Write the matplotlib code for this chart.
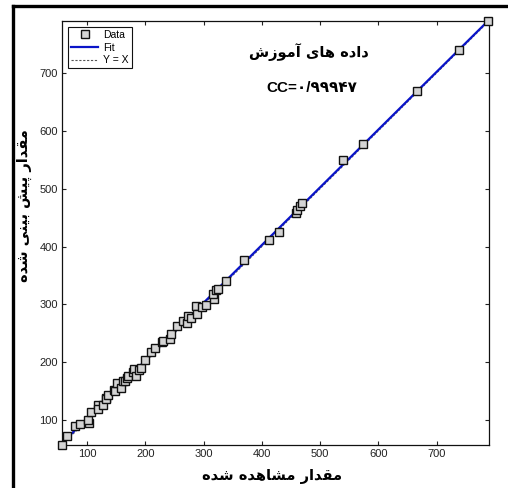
import numpy as np
import matplotlib
matplotlib.use("Agg")
import matplotlib.pyplot as plt
from matplotlib.lines import Line2D

# ---------------- data ----------------
observed = [57, 66, 79, 88, 103, 102, 106, 118, 118, 128, 133, 133, 136, 146, 148,
            152, 159, 162, 166, 168, 171, 179, 180, 184, 189, 193, 199, 209, 217,
            228, 231, 242, 244, 254, 264, 271, 274, 278, 287, 288, 297, 305, 318,
            317, 321, 325, 338, 370, 412, 430, 458, 461, 465, 469, 539, 573, 666,
            738, 789]
predicted = [57, 72, 89, 94, 95, 100, 114, 126, 120, 126, 139, 136, 143, 152, 150,
             165, 156, 167, 168, 172, 177, 184, 188, 177, 186, 190, 204, 217, 224,
             235, 237, 241, 249, 262, 272, 268, 280, 276, 297, 283, 295, 299, 309,
             318, 325, 327, 340, 377, 412, 426, 458, 464, 470, 475, 550, 577, 669,
             740, 790]
tick_values = [100, 200, 300, 400, 500, 600, 700]
title_text = "داده های آموزش"
cc_text = "CC=۰/۹۹۹۴۷"
xlabel_text = "مقدار مشاهده شده"
ylabel_text = "مقدار پیش بینی شده"
legend_labels = ["Data", "Fit", "Y = X"]

# ------------- minimal Persian shaping (matplotlib has no text shaping) -------------
FORMS = {
    '\u0627': ('\uFE8D', '\uFE8E', None, None),
    '\u0622': ('\uFE81', '\uFE82', None, None),
    '\u0628': ('\uFE8F', '\uFE90', '\uFE91', '\uFE92'),
    '\u067E': ('\uFB56', '\uFB57', '\uFB58', '\uFB59'),
    '\u062F': ('\uFEA9', '\uFEAA', None, None),
    '\u0631': ('\uFEAD', '\uFEAE', None, None),
    '\u0632': ('\uFEAF', '\uFEB0', None, None),
    '\u0634': ('\uFEB5', '\uFEB6', '\uFEB7', '\uFEB8'),
    '\u0642': ('\uFED5', '\uFED6', '\uFED7', '\uFED8'),
    '\u0645': ('\uFEE1', '\uFEE2', '\uFEE3', '\uFEE4'),
    '\u0646': ('\uFEE5', '\uFEE6', '\uFEE7', '\uFEE8'),
    '\u0647': ('\uFEE9', '\uFEEA', '\uFEEB', '\uFEEC'),
    '\u0648': ('\uFEED', '\uFEEE', None, None),
    '\u06CC': ('\uFEEF', '\uFEF0', '\uFEF3', '\uFEF4'),
}


def shape(text):
    out = []
    chars = list(text)
    for i, c in enumerate(chars):
        if c not in FORMS:
            out.append(c)
            continue
        f = FORMS[c]
        prev = chars[i - 1] if i > 0 else None
        nxt = chars[i + 1] if i + 1 < len(chars) else None
        jp = prev in FORMS and FORMS[prev][2] is not None
        jn = nxt in FORMS and f[2] is not None
        if jp and jn:
            out.append(f[3])
        elif jp:
            out.append(f[1])
        elif jn:
            out.append(f[2])
        else:
            out.append(f[0])
    return ''.join(reversed(out))


plt.rcParams['font.family'] = ['Liberation Sans', 'DejaVu Sans']

fig = plt.figure(figsize=(5.08, 4.88), dpi=100)
ax = fig.add_axes([62 / 508, 1 - 445 / 488, (489 - 62) / 508, (445 - 21) / 488])

obs = np.array(observed, dtype=float)
pred = np.array(predicted, dtype=float)
xmin, xmax = obs.min(), obs.max()
ymin, ymax = pred.min(), pred.max()
lo, hi = min(xmin, ymin), max(xmax, ymax)

coef = np.polyfit(obs, pred, 1)
xx = np.array([lo, hi])

ax.plot(obs, pred, linestyle='none', marker='s', markersize=6.2,
        markerfacecolor='#d4d4d4', markeredgecolor='#111111', markeredgewidth=1.0,
        zorder=3, clip_on=False)
ax.plot(xx, np.polyval(coef, xx), color='#0a14c8', lw=1.6, zorder=2)
ax.plot(xx, xx, color='#555555', lw=0.8, ls=(0, (2, 1.5)), zorder=1)

ax.set_xlim(lo, hi)
ax.set_ylim(lo, hi)
ax.set_xticks(tick_values)
ax.set_yticks(tick_values)
ax.tick_params(direction='in', top=True, right=True, length=3, width=0.8,
               labelsize=8, colors='#222222', pad=3)
for s in ax.spines.values():
    s.set_linewidth(0.9)
    s.set_color('#111111')

handles = [
    Line2D([], [], linestyle='none', marker='s', markersize=6.2,
           markerfacecolor='#d4d4d4', markeredgecolor='#111111'),
    Line2D([], [], color='#0a14c8', lw=1.6),
    Line2D([], [], color='#555555', lw=0.8, ls=(0, (2, 1.5))),
]
leg = fig.legend(handles, legend_labels, loc='upper left',
                 bbox_to_anchor=(68 / 508, 1 - 27 / 488), bbox_transform=fig.transFigure,
                 fontsize=7.5, frameon=True, fancybox=False, framealpha=1,
                 edgecolor='#111111', borderpad=0.3, handlelength=2.6,
                 handletextpad=0.5, labelspacing=0.25, borderaxespad=0)
leg.get_frame().set_linewidth(0.8)

fa = ['DejaVu Sans']
fig.text(309 / 508, 1 - 52 / 488, shape(title_text), family=fa, fontweight='bold',
         fontsize=10.5, ha='center', va='center')
fig.text(312 / 508, 1 - 88 / 488, cc_text, family=['Liberation Sans', 'DejaVu Sans'],
         fontweight='bold', fontsize=11, ha='center', va='center')
fig.text(272 / 508, 1 - 476 / 488, shape(xlabel_text), family=fa, fontweight='bold',
         fontsize=10.5, ha='center', va='center')
fig.text(24 / 508, 1 - 206 / 488, shape(ylabel_text), family=fa, fontweight='bold',
         fontsize=10.5, ha='center', va='center', rotation=90)

# outer frame lines (top and left)
fig.add_artist(Line2D([12.5 / 508, 1], [1 - 6 / 488, 1 - 6 / 488], color='black', lw=2.4,
                      transform=fig.transFigure))
fig.add_artist(Line2D([12.5 / 508, 12.5 / 508], [0, 1 - 6 / 488], color='black', lw=2.4,
                      transform=fig.transFigure))

fig.savefig('out.png', dpi=100)
